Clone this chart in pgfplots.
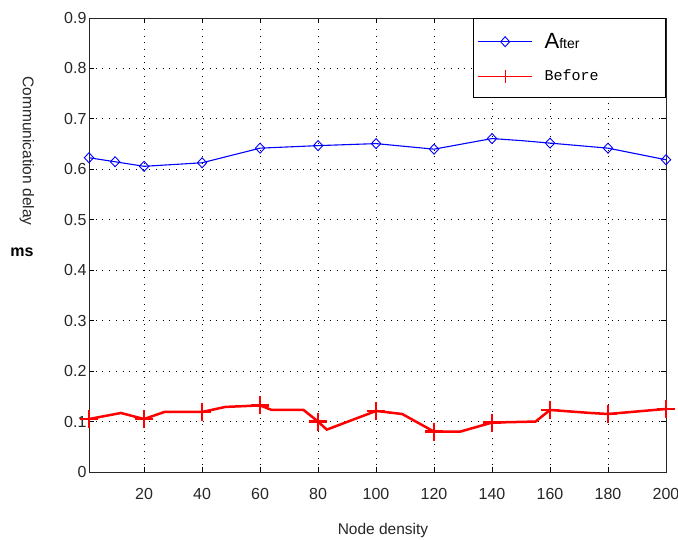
\documentclass[border=0pt]{standalone}
\usepackage{fontspec}
\setmainfont{Liberation Sans}
\newfontfamily\monofont{Liberation Mono}
\usepackage{pgfplots}
\pgfplotsset{compat=1.18}
\begin{document}
\begin{tikzpicture}
\useasboundingbox (-89pt,-67pt) rectangle (589pt,472pt);
\begin{axis}[
  at={(0pt,0pt)}, anchor=south west,
  scale only axis, width=577pt, height=454pt,
  xmin=1, xmax=200, ymin=0, ymax=0.9,
  xtick={20,40,60,80,100,120,140,160,180,200},
  ytick={0,0.1,0.2,0.3,0.4,0.5,0.6,0.7,0.8,0.9},
  yticklabel style={/pgf/number format/fixed,/pgf/number format/precision=1, xshift=1pt},
  /pgf/number format/assume math mode=true,
  tick label style={font=\fontsize{16}{19}\selectfont, color=black!85},
  xticklabel style={yshift=-13pt},
  tick align=inside, major tick length=5pt,
  tick style={black, line width=0.8pt},
  axis line style={black!85, line width=1pt},
  grid=major,
  major grid style={black, line width=0.9pt, dash pattern=on 0.9pt off 5.8pt},
  clip=false,
  legend image code/.code={\draw[mark repeat=2,mark phase=2,#1] plot coordinates {(0pt,0pt) (27pt,0pt) (54pt,0pt)};},
  legend style={at={(1,1)}, anchor=north east, draw=black, line width=0.8pt, fill=white,
    inner xsep=4pt, inner ysep=12pt, row sep=14pt,
    nodes={inner sep=3pt},
    /tikz/every odd column/.style={column sep=9pt}},
  legend cell align=left,
]
\addlegendimage{color=blue, draw=blue, line width=0.9pt, mark=diamond, mark size=5pt, mark options={solid, draw=blue, xscale=1.2}}
\addlegendentry{\makebox[114pt][l]{{\fontsize{22}{22}\selectfont A}{\fontsize{14}{14}\selectfont fter}}}
\addlegendimage{color=red, draw=red, line width=0.9pt, mark=+, mark size=6.5pt, mark options={solid, draw=red}}
\addlegendentry{\makebox[114pt][l]{\monofont\fontsize{15}{15}\selectfont Before}}

\addplot[blue, line width=1.1pt, mark=diamond, mark size=5pt, mark options={solid, line width=0.9pt, xscale=1.25},
  mark indices={1,2,3,4,5,6,7,8,9,11,12,13}, forget plot] coordinates {
(1,0.623) (10,0.615) (20,0.606) (40,0.613) (60,0.642) (80,0.647) (100,0.651)
(120,0.640) (140,0.661) (150,0.657) (160,0.652) (180,0.642) (200,0.619)
};
\addplot[red, line width=2.5pt, mark=+, mark size=9pt, mark options={solid},
  mark indices={1,4,6,8,11,13,15,17,19,22,24}, forget plot] coordinates {
(1,0.105) (12,0.117) (14,0.114) (20,0.105) (27,0.119) (40,0.119) (48,0.129)
(60,0.132) (64,0.123) (75,0.123) (80,0.100) (83,0.084) (100,0.121) (109,0.115)
(120,0.080) (129,0.080) (140,0.098) (155,0.100) (160,0.123) (167,0.120)
(174,0.117) (180,0.115) (188,0.119) (200,0.125)
};
\end{axis}
\node[rotate=-90, font=\fontsize{15.5}{18}\selectfont, color=black!85] at (-62pt,321pt) {Communication delay};
\node[font=\bfseries\fontsize{16}{18}\selectfont] at (-67pt,220pt) {ms};
\node[font=\fontsize{15.5}{18}\selectfont, color=black!85] at (294pt,-58pt) {Node density};
\end{tikzpicture}
\end{document}
